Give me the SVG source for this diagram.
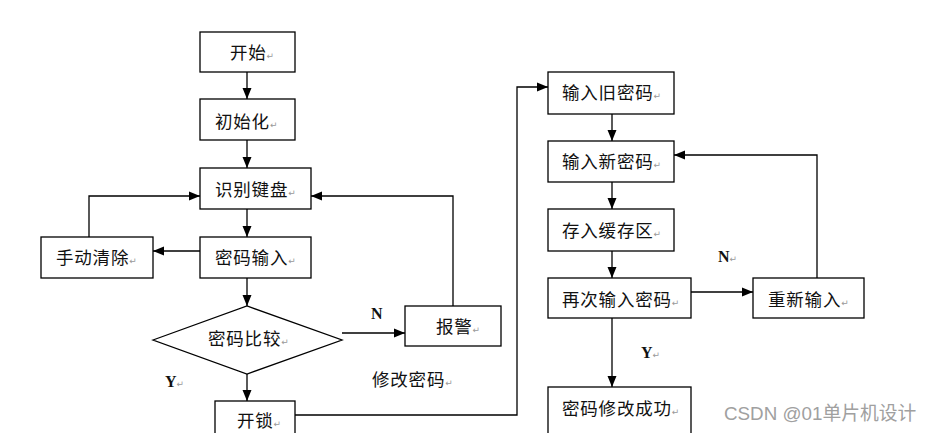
<svg xmlns="http://www.w3.org/2000/svg" width="935" height="433" viewBox="0 0 935 433">
<style>
.box{fill:#fff;stroke:#000;stroke-width:1.3}
.t{font-family:"Noto Sans CJK SC","Liberation Sans",sans-serif;font-size:17.5px;fill:#111;letter-spacing:0.8px}
.yn{font-family:"Liberation Serif",serif;font-weight:bold;font-size:16px;fill:#111}
.r{font-family:"DejaVu Sans",sans-serif;font-size:9px;fill:#999;letter-spacing:0;font-weight:normal}
.c{fill:none;stroke:#000;stroke-width:1.3}
.wm{font-family:"Liberation Sans","Noto Sans CJK SC",sans-serif;font-size:18.8px;fill:#a0a0a0}
</style>
<defs>
<marker id="ah" markerUnits="userSpaceOnUse" markerWidth="11" markerHeight="10" refX="11" refY="5" orient="auto">
<path d="M0,0.5 L11,5 L0,9.5 z" fill="#000"/>
</marker>
</defs>
<rect width="935" height="433" fill="#fff"/>
<g id="connectors">
<path class="c" d="M247,72 V99" marker-end="url(#ah)"/>
<path class="c" d="M247,140 V168" marker-end="url(#ah)"/>
<path class="c" d="M247,209 V237" marker-end="url(#ah)"/>
<path class="c" d="M200,251 H153" marker-end="url(#ah)"/>
<path class="c" d="M89,237 V196 H200" marker-end="url(#ah)"/>
<path class="c" d="M247,278 V306" marker-end="url(#ah)"/>
<path class="c" d="M342,333 H405" marker-end="url(#ah)"/>
<path class="c" d="M453,306 V196 H311" marker-end="url(#ah)"/>
<path class="c" d="M247,374 V401" marker-end="url(#ah)"/>
<path class="c" d="M295,415 H517 V87 H548" marker-end="url(#ah)"/>
<path class="c" d="M612,114 V141" marker-end="url(#ah)"/>
<path class="c" d="M612,182 V209" marker-end="url(#ah)"/>
<path class="c" d="M612,251 V278" marker-end="url(#ah)"/>
<path class="c" d="M691,292 H753" marker-end="url(#ah)"/>
<path class="c" d="M817,278 V155 H674" marker-end="url(#ah)"/>
<path class="c" d="M612,318 V387" marker-end="url(#ah)"/>
</g>
<g id="start"><rect class="box" x="200" y="32" width="95" height="40"/><text class="t" x="230" y="59">开始<tspan class="r">↵</tspan></text></g>
<g id="init"><rect class="box" x="200" y="99" width="95" height="41"/><text class="t" x="215" y="128">初始化<tspan class="r">↵</tspan></text></g>
<g id="keyboard"><rect class="box" x="200" y="168" width="111" height="41"/><text class="t" x="215" y="196">识别键盘<tspan class="r">↵</tspan></text></g>
<g id="clear"><rect class="box" x="41" y="237" width="112" height="41"/><text class="t" x="56" y="264">手动清除<tspan class="r">↵</tspan></text></g>
<g id="pwinput"><rect class="box" x="200" y="237" width="111" height="41"/><text class="t" x="215" y="264">密码输入<tspan class="r">↵</tspan></text></g>
<g id="compare"><polygon class="box" points="153,340 247,306 342,340 247,374"/><text class="t" x="208" y="345">密码比较<tspan class="r">↵</tspan></text></g>
<g id="alarm"><rect class="box" x="405" y="306" width="96" height="40"/><text class="t" x="436" y="333">报警<tspan class="r">↵</tspan></text></g>
<g id="unlock"><rect class="box" x="215" y="401" width="80" height="45"/><text class="t" x="237" y="427">开锁<tspan class="r">↵</tspan></text></g>
<g id="oldpw"><rect class="box" x="548" y="72" width="126" height="42"/><text class="t" x="562" y="99">输入旧密码<tspan class="r">↵</tspan></text></g>
<g id="newpw"><rect class="box" x="548" y="141" width="126" height="41"/><text class="t" x="562" y="168">输入新密码<tspan class="r">↵</tspan></text></g>
<g id="buffer"><rect class="box" x="548" y="209" width="126" height="42"/><text class="t" x="562" y="237">存入缓存区<tspan class="r">↵</tspan></text></g>
<g id="again"><rect class="box" x="548" y="278" width="143" height="40"/><text class="t" x="562" y="306">再次输入密码<tspan class="r">↵</tspan></text></g>
<g id="reenter"><rect class="box" x="753" y="278" width="111" height="40"/><text class="t" x="768" y="306">重新输入<tspan class="r">↵</tspan></text></g>
<g id="success"><rect class="box" x="548" y="387" width="143" height="59"/><text class="t" x="562" y="415">密码修改成功<tspan class="r">↵</tspan></text></g>
<g id="labels">
<text class="yn" x="371" y="319">N</text>
<text class="yn" x="165" y="387">Y<tspan class="r">↵</tspan></text>
<text class="t" x="372" y="386">修改密码<tspan class="r">↵</tspan></text>
<text class="yn" x="718" y="262">N<tspan class="r">↵</tspan></text>
<text class="yn" x="641" y="358">Y<tspan class="r">↵</tspan></text>
</g>
<text class="wm" x="724" y="420">CSDN @01单片机设计</text>
</svg>
